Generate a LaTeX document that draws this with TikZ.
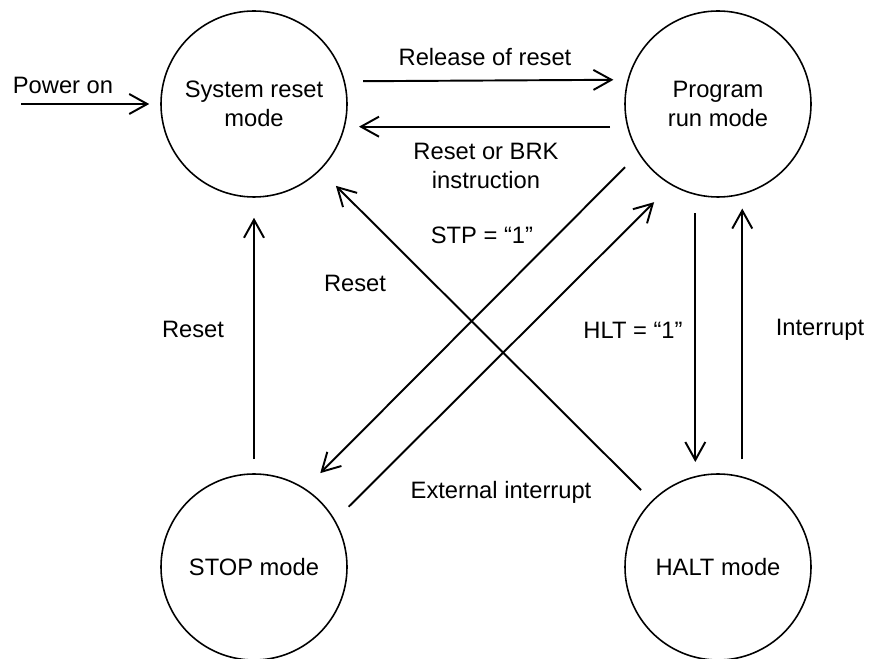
\documentclass[tikz,border=0pt]{standalone}
\usepackage{fontspec}
\setmainfont{Liberation Sans}
\usetikzlibrary{arrows.meta}
\tikzset{
  mode/.style={draw, circle, line width=0.9pt, minimum size=3.72cm, inner sep=0pt, align=center},
  trans/.style={line width=1.1pt, -{Straight Barb[length=3.6mm, width=4mm, line width=1.1pt]}},
  lbl/.style={align=center, inner sep=0pt}
}
\begin{document}
\begin{tikzpicture}[font=\fontsize{13.5}{16.5}\selectfont]
            \useasboundingbox (0,0) rectangle (17.38,13.16);
            % states
            \node[mode] (sys) at (5.08,11.08) {System reset\\mode};
            \node[mode] (prog) at (14.36,11.08) {Program\\run mode};
            \node[mode] (stop) at (5.08,1.82) {STOP mode};
            \node[mode] (halt) at (14.36,1.82) {HALT mode};
            \coordinate (pwr) at (0.42,11.08);
            % transitions
            \draw[trans, shorten >=0.22cm] (pwr) -- (sys.west);
            \draw[trans, shorten <=0.36cm, shorten >=0.28cm] (sys.14.3) -- (prog.165.7);
            \draw[trans, shorten <=0.34cm, shorten >=0.28cm] (prog.194.3) -- (sys.-14.3);
            \draw[trans, shorten <=0.28cm, shorten >=0.40cm] (stop.north) -- (sys.south);
            \draw[trans, shorten <=0.36cm, shorten >=0.28cm] (prog.-104.3) -- (halt.104.3);
            \draw[trans, shorten <=0.34cm, shorten >=0.28cm] (halt.75.7) -- (prog.-75.7);
            \draw[trans, shorten <=0.30cm, shorten >=0.44cm] (halt.135) -- (sys.-45);
            \draw[trans, shorten <=0.38cm, shorten >=0.43cm] (prog.212.3) -- (stop.57.7);
            \draw[trans, shorten <=0.38cm, shorten >=0.48cm] (stop.30) -- (prog.240);
            % labels
            \node[lbl] (lpwr) at (1.26,11.46) {Power on};
            \node[lbl] (lrel) at (9.70,12.02) {Release of reset};
            \node[lbl] (lbrk) at (9.72,9.84) {Reset or BRK\\instruction};
            \node[lbl] (lstp) at (9.64,8.46) {STP = “1”};
            \node[lbl] (lrst) at (7.10,7.50) {Reset};
            \node[lbl] (lrsv) at (3.86,6.58) {Reset};
            \node[lbl] (lhlt) at (12.66,6.56) {HLT = “1”};
            \node[lbl] (lint) at (16.40,6.56) {Interrupt};
            \node[lbl] (lext) at (10.02,3.32) {External interrupt};
        \end{tikzpicture}
\end{document}
